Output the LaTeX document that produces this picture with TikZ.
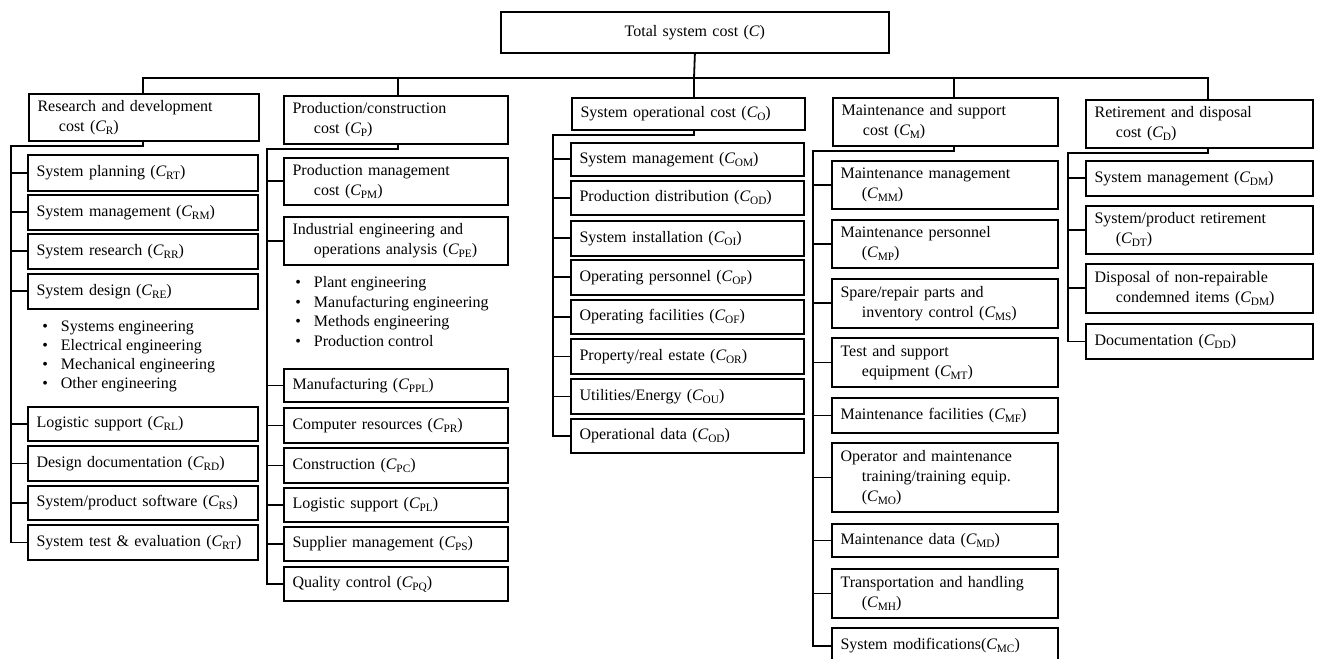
\documentclass[tikz,border=0pt]{standalone}
\usepackage{fontspec}
\setmainfont{Liberation Serif}
% cost symbol with an upright subscript
\newcommand\Cs[1]{\textit{C}\kern-0.2pt\raisebox{-0.4ex}{\fontsize{8.5}{8.5}\selectfont #1}}
\newcommand\bodyfont{\fontsize{12}{15}\selectfont}
% continuation line with hanging indent
\newcommand\hang{\\\hspace*{16pt}}

\begin{document}
\begin{tikzpicture}[x=0.75pt,y=-0.75pt,
  cbox/.style={draw, line width=1.35pt, rectangle, anchor=north west,
               inner xsep=6.5pt, inner ysep=0pt, align=left, font=\bodyfont},
  sz/.style 2 args={minimum width=#1*0.75pt, minimum height=#2*0.75pt,
                    text width=#1*0.75pt-13pt},
  wire/.style={line width=1.35pt},
  bul/.style={anchor=base west, inner sep=0pt, font=\bodyfont}]

\useasboundingbox (0,0) rectangle (1317,659);
\fill[white] (0,0) rectangle (1317,659);
\clip (0,0) rectangle (1317,659);

% ---- top level ----
\node[cbox, sz={388}{41}, align=center] (T) at (500,11) {Total system cost (\textit{C})};

% ---- cost categories ----
\node[cbox, sz={230}{47}] (R) at (28,93)   {Research and development\hang cost (\Cs{R})};
\node[cbox, sz={224}{48}] (P) at (283,95)  {Production/construction\hang cost (\Cs{P})};
\node[cbox, sz={233}{32}] (O) at (571,97)  {System operational cost (\Cs{O})};
\node[cbox, sz={225}{48}] (M) at (832,97)  {Maintenance and support\hang cost (\Cs{M})};
\node[cbox, sz={227}{48}] (D) at (1085,99) {Retirement and disposal\hang cost (\Cs{D})};

% bus drop points
\coordinate (busR) at (143,78);
\coordinate (busP) at (398,78);
\coordinate (busO) at (694,78);
\coordinate (busM) at (954,78);
\coordinate (busD) at (1208,78);

\draw[wire] (T.south) -- (busO);
\draw[wire] (busR |- R.north) -- (busR) -- (busD) -- (busD |- D.north);
\draw[wire] (busP) -- (busP |- P.north);
\draw[wire] (busO) -- (busO |- O.north);
\draw[wire] (busM) -- (busM |- M.north);

% ---- research and development ----
\node[cbox, sz={230}{36}] (r1) at (27,154) {System planning (\Cs{RT})};
\node[cbox, sz={230}{35}] (r2) at (27,194) {System management (\Cs{RM})};
\node[cbox, sz={230}{35}] (r3) at (27,233) {System research (\Cs{RR})};
\node[cbox, sz={230}{35}] (r4) at (27,273) {System design (\Cs{RE})};
\node[bul] (rb1) at (42,331) {\makebox[14pt][l]{\textbullet}Systems engineering};
\node[bul] (rb2) at (42,350) {\makebox[14pt][l]{\textbullet}Electrical engineering};
\node[bul] (rb3) at (42,369) {\makebox[14pt][l]{\textbullet}Mechanical engineering};
\node[bul] (rb4) at (42,388) {\makebox[14pt][l]{\textbullet}Other engineering};
\node[cbox, sz={230}{34}] (r5) at (27,406) {Logistic support (\Cs{RL})};
\node[cbox, sz={230}{35}] (r6) at (27,445) {Design documentation (\Cs{RD})};
\node[cbox, sz={230}{34}] (r7) at (27,485) {System/product software (\Cs{RS})};
\node[cbox, sz={230}{35}] (r8) at (27,524) {System test \& evaluation (\Cs{RT})};

\coordinate (sR) at (11,146);
\draw[wire] (busR |- R.south) -- (busR |- sR) -- (sR) |- (r8.west);
\foreach \n in {r1,r2,r3,r4,r5,r6,r7} \draw[wire] (\n.west) -- (\n.west -| sR);

% ---- production/construction ----
\node[cbox, sz={224}{47}] (p1) at (283,157) {Production management\hang cost (\Cs{PM})};
\node[cbox, sz={224}{48}] (p2) at (283,216) {Industrial engineering and\hang operations analysis (\Cs{PE})};
\node[bul] (pb1) at (295,288) {\makebox[14pt][l]{\textbullet}Plant engineering};
\node[bul] (pb2) at (295,307) {\makebox[14pt][l]{\textbullet}Manufacturing engineering};
\node[bul] (pb3) at (295,326) {\makebox[14pt][l]{\textbullet}Methods engineering};
\node[bul] (pb4) at (295,346) {\makebox[14pt][l]{\textbullet}Production control};
\node[cbox, sz={224}{33}] (p3) at (283,368) {Manufacturing (\Cs{PPL})};
\node[cbox, sz={224}{35}] (p4) at (283,407) {Computer resources (\Cs{PR})};
\node[cbox, sz={224}{35}] (p5) at (283,447) {Construction (\Cs{PC})};
\node[cbox, sz={224}{34}] (p6) at (283,487) {Logistic support (\Cs{PL})};
\node[cbox, sz={224}{34}] (p7) at (283,526) {Supplier management (\Cs{PS})};
\node[cbox, sz={224}{34}] (p8) at (283,566) {Quality control (\Cs{PQ})};

\coordinate (sP) at (267,149);
\draw[wire] (busP |- P.south) -- (busP |- sP) -- (sP) |- (p8.west);
\foreach \n in {p1,p2,p3,p4,p5,p6,p7} \draw[wire] (\n.west) -- (\n.west -| sP);

% ---- system operation ----
\node[cbox, sz={233}{33}] (o1) at (570,142) {System management (\Cs{OM})};
\node[cbox, sz={233}{34}] (o2) at (570,180) {Production distribution (\Cs{OD})};
\node[cbox, sz={233}{35}] (o3) at (570,220) {System installation (\Cs{OI})};
\node[cbox, sz={233}{35}] (o4) at (570,259) {Operating personnel (\Cs{OP})};
\node[cbox, sz={233}{34}] (o5) at (570,299) {Operating facilities (\Cs{OF})};
\node[cbox, sz={233}{35}] (o6) at (570,338) {Property/real estate (\Cs{OR})};
\node[cbox, sz={233}{35}] (o7) at (570,378) {Utilities/Energy (\Cs{OU})};
\node[cbox, sz={233}{34}] (o8) at (570,418) {Operational data (\Cs{OD})};

\coordinate (sO) at (553,135);
\draw[wire] (busO |- O.south) -- (busO |- sO) -- (sO) |- (o8.west);
\foreach \n in {o1,o2,o3,o4,o5,o6,o7} \draw[wire] (\n.west) -- (\n.west -| sO);

% ---- maintenance and support ----
\node[cbox, sz={226}{48}] (m1) at (831,160) {Maintenance management\hang (\Cs{MM})};
\node[cbox, sz={226}{48}] (m2) at (831,219) {Maintenance personnel\hang (\Cs{MP})};
\node[cbox, sz={226}{49}] (m3) at (831,278) {Spare/repair parts and\hang inventory control (\Cs{MS})};
\node[cbox, sz={226}{49}] (m4) at (831,337) {Test and support\hang equipment (\Cs{MT})};
\node[cbox, sz={226}{35}] (m5) at (831,397) {Maintenance facilities (\Cs{MF})};
\node[cbox, sz={226}{69}] (m6) at (831,442) {Operator and maintenance\hang training/training equip.\hang (\Cs{MO})};
\node[cbox, sz={226}{33}] (m7) at (831,523) {Maintenance data (\Cs{MD})};
\node[cbox, sz={226}{49}] (m8) at (831,568) {Transportation and handling\hang (\Cs{MH})};
\node[cbox, sz={226}{36}] (m9) at (831,627) {System modifications(\Cs{MC})};

\coordinate (sM) at (813,151);
\draw[wire] (busM |- M.south) -- (busM |- sM) -- (sM) |- (m9.west);
\foreach \n in {m1,m2,m3,m4,m5,m6,m7,m8} \draw[wire] (\n.west) -- (\n.west -| sM);

% ---- retirement and disposal ----
\node[cbox, sz={227}{35}] (d1) at (1085,160) {System management (\Cs{DM})};
\node[cbox, sz={227}{48}] (d2) at (1085,205) {System/product retirement\hang (\Cs{DT})};
\node[cbox, sz={227}{49}] (d3) at (1085,263) {Disposal of non-repairable\hang condemned items (\Cs{DM})};
\node[cbox, sz={227}{35}] (d4) at (1085,323) {Documentation (\Cs{DD})};

\coordinate (sD) at (1068,153);
\draw[wire] (busD |- D.south) -- (busD |- sD) -- (sD) |- (d4.west);
\foreach \n in {d1,d2,d3} \draw[wire] (\n.west) -- (\n.west -| sD);

\end{tikzpicture}
\end{document}
